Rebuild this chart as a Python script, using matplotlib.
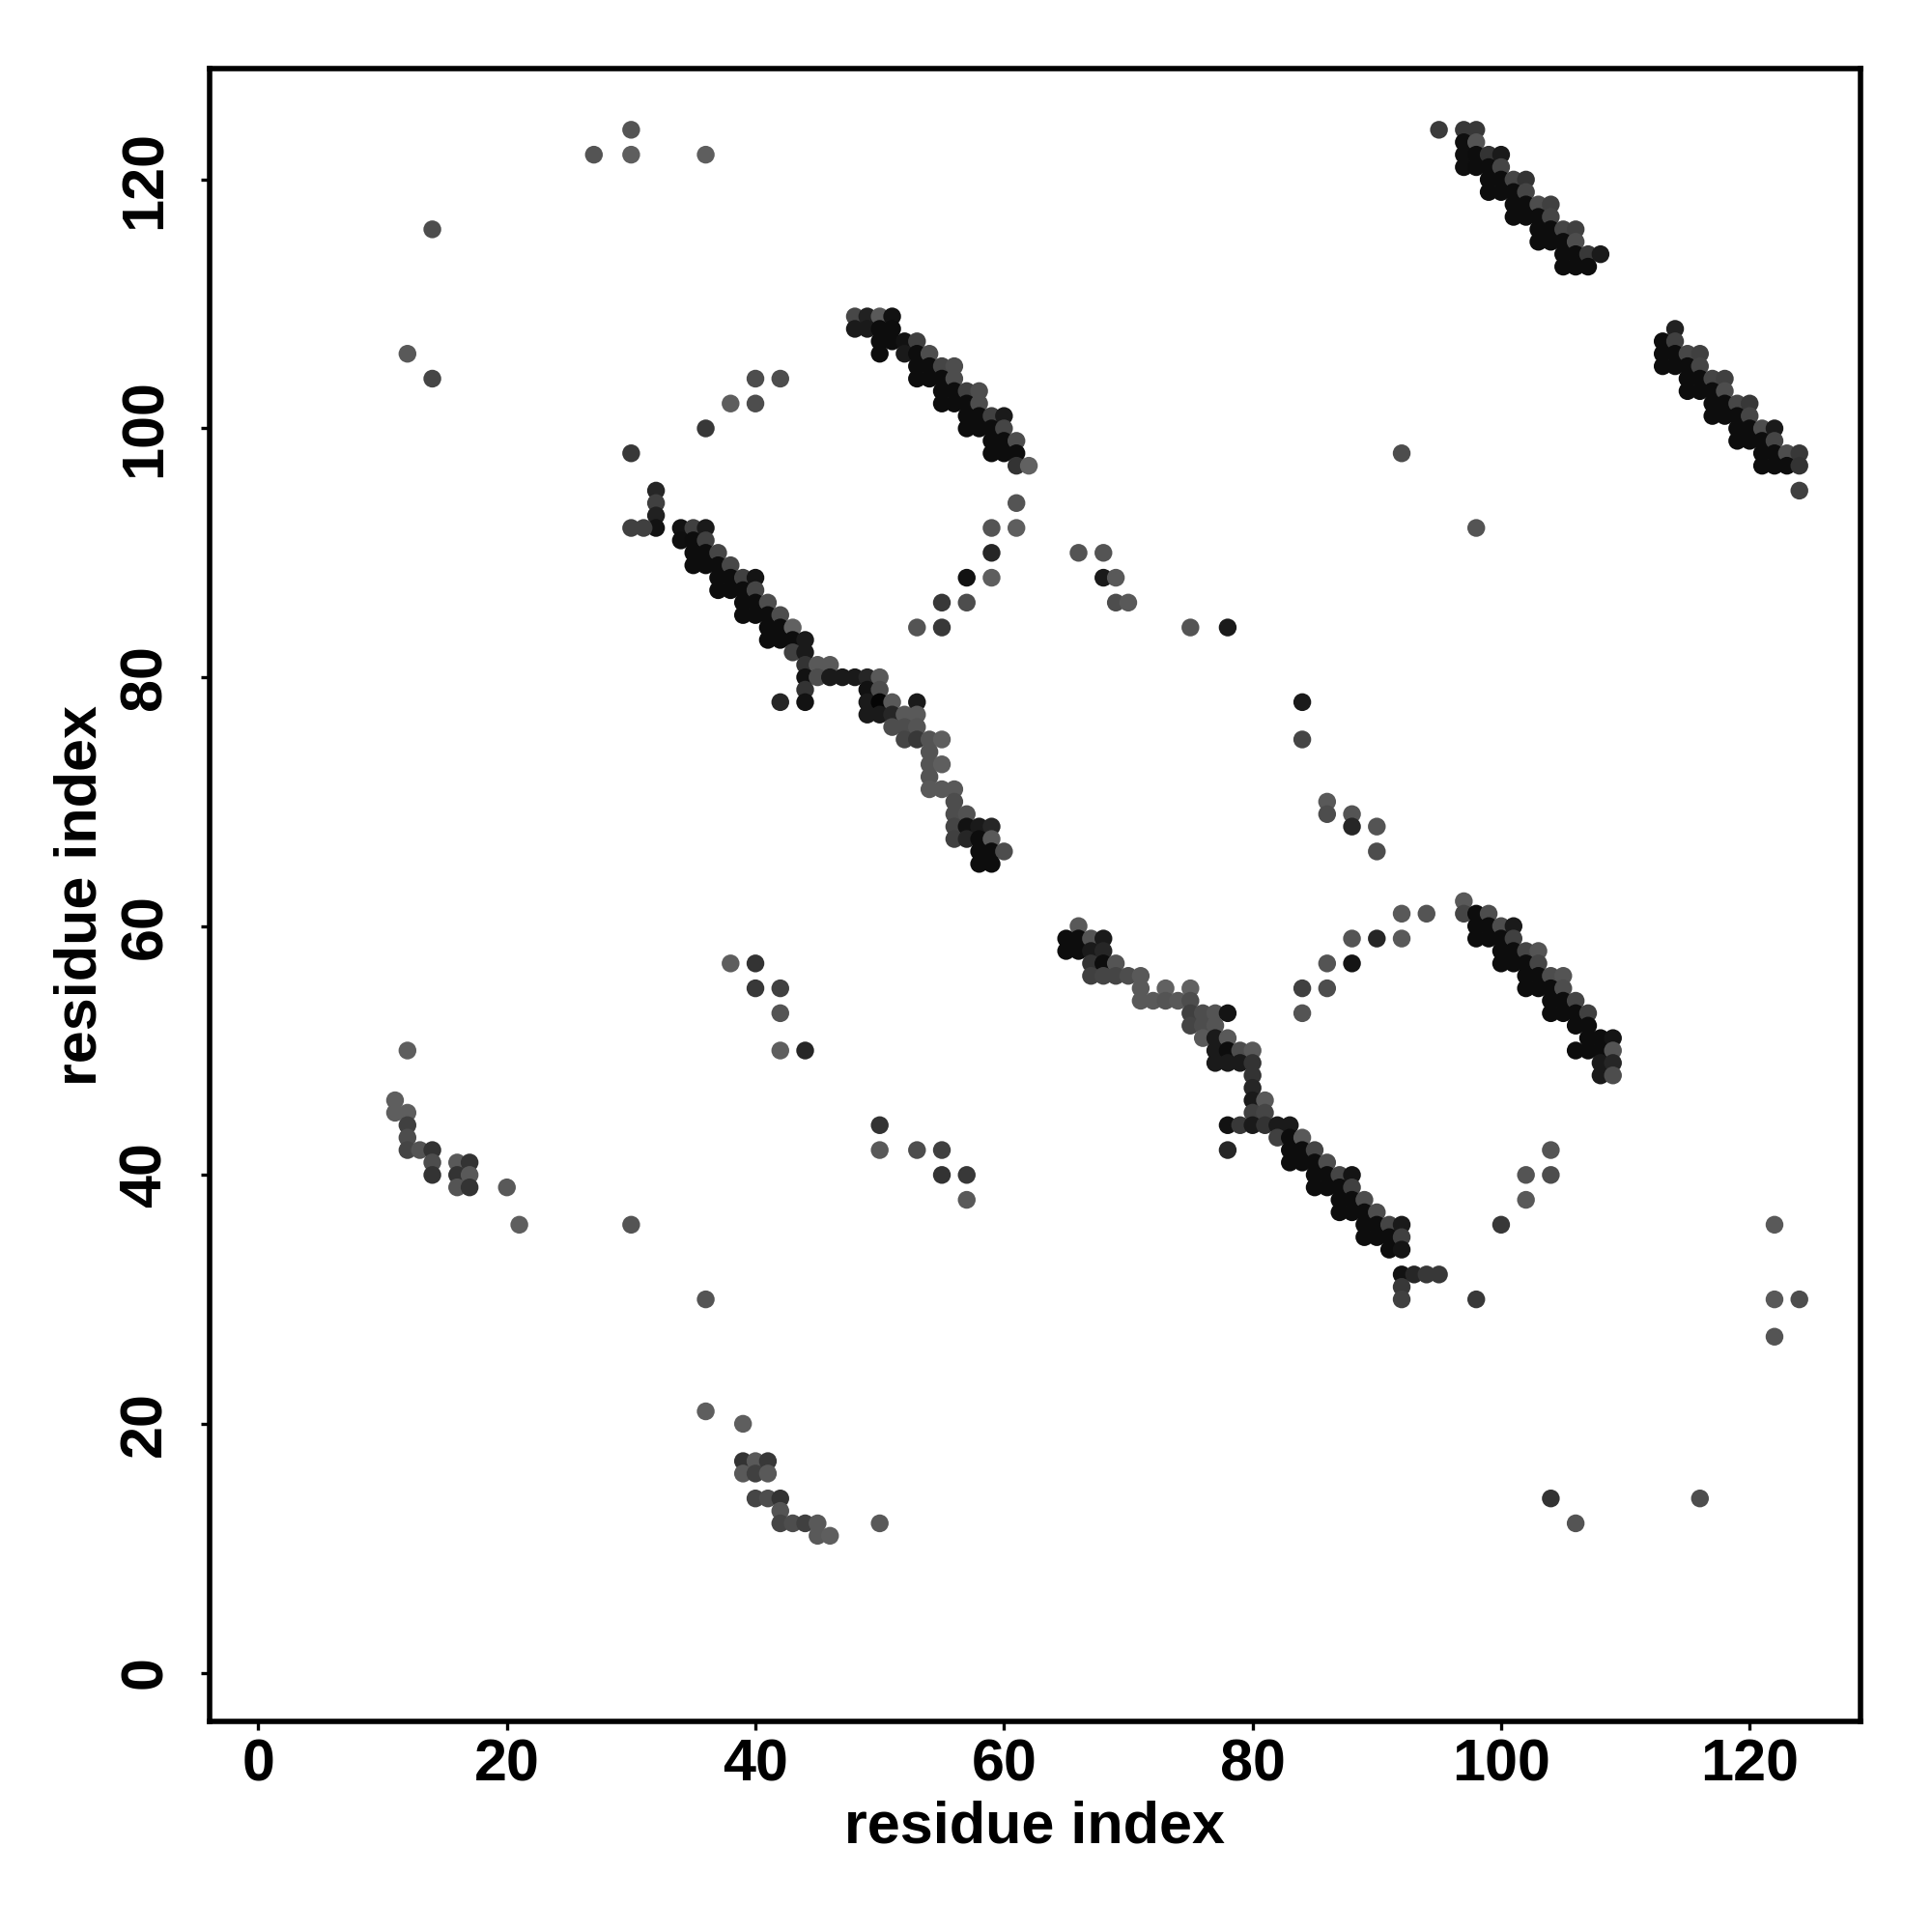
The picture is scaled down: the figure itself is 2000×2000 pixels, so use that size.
import matplotlib
matplotlib.use("Agg")
import matplotlib.pyplot as plt

plt.rcParams['font.family'] = ['Liberation Sans', 'DejaVu Sans']
plt.rcParams['font.weight'] = 'bold'

# contacts: (residue i, residue j, grey level 0=black .. 1=white)
sheet_a = [  # 97-108 vs 113-124
    (95, 124, .23), (97, 124, .22), (98, 124, .22), (97, 123, .06), (98, 123, .33),
    (97, 122, .06), (98, 122, .05), (99, 122, .2), (100, 122, .1),
    (97, 121, .06), (98, 121, .05), (99, 121, .05), (100, 121, .27),
    (99, 120, .05), (100, 120, .05), (101, 120, .27), (102, 120, .2),
    (99, 119, .05), (100, 119, .05), (101, 119, .05), (102, 119, .27),
    (101, 118, .05), (102, 118, .05), (103, 118, .3), (104, 118, .25),
    (101, 117, .05), (102, 117, .05), (103, 117, .05), (104, 117, .27),
    (103, 116, .05), (104, 116, .05), (105, 116, .27), (106, 116, .25),
    (103, 115, .05), (104, 115, .05), (105, 115, .05), (106, 115, .3),
    (105, 114, .05), (106, 114, .05), (107, 114, .22), (108, 114, .1),
    (105, 113, .05), (106, 113, .05), (107, 113, .05),
]
sheet_a_mirror = [
    (114, 108, .13), (113, 107, .05), (114, 107, .25),
    (113, 106, .05), (114, 106, .05), (115, 106, .28), (116, 106, .25),
    (113, 105, .05), (114, 105, .05), (115, 105, .05), (116, 105, .27),
    (115, 104, .05), (116, 104, .05), (117, 104, .27), (118, 104, .25),
    (115, 103, .05), (116, 103, .05), (117, 103, .05), (118, 103, .3),
    (117, 102, .05), (118, 102, .05), (119, 102, .28), (120, 102, .22),
    (117, 101, .05), (118, 101, .05), (119, 101, .05), (120, 101, .27),
    (119, 100, .05), (120, 100, .05), (121, 100, .3), (122, 100, .1),
    (119, 99, .05), (120, 99, .05), (121, 99, .05), (122, 99, .27),
    (121, 98, .05), (122, 98, .05), (123, 98, .3), (124, 98, .22),
    (121, 97, .05), (122, 97, .05), (123, 97, .05), (124, 97, .2),
    (124, 95, .25),
]
sheet_b = [  # 48-62 vs 97-109
    (48, 109, .28), (49, 109, .13), (50, 109, .35), (51, 109, .07),
    (48, 108, .1), (49, 108, .1), (50, 108, .05), (51, 108, .05),
    (50, 107, .05), (51, 107, .05), (52, 107, .07), (53, 107, .25),
    (50, 106, .05), (52, 106, .1), (53, 106, .05), (54, 106, .3),
    (53, 105, .05), (54, 105, .05), (55, 105, .27), (56, 105, .3),
    (53, 104, .05), (54, 104, .05), (55, 104, .05), (56, 104, .3),
    (55, 103, .05), (56, 103, .05), (57, 103, .25), (58, 103, .3),
    (55, 102, .05), (56, 102, .05), (57, 102, .05), (58, 102, .3),
    (57, 101, .05), (58, 101, .05), (59, 101, .25), (60, 101, .1),
    (57, 100, .05), (58, 100, .05), (59, 100, .05), (60, 100, .27),
    (59, 99, .05), (60, 99, .05), (61, 99, .3),
    (59, 98, .05), (60, 98, .05), (61, 98, .05),
    (61, 97, .2), (62, 97, .38),
]
sheet_b_mirror = [
    (97, 62, .35), (97, 61, .27), (98, 61, .05), (99, 61, .3),
    (98, 60, .05), (99, 60, .05), (100, 60, .3), (101, 60, .1),
    (98, 59, .05), (99, 59, .05), (100, 59, .05), (101, 59, .25),
    (100, 58, .05), (101, 58, .05), (102, 58, .27), (103, 58, .33),
    (100, 57, .05), (101, 57, .05), (102, 57, .05), (103, 57, .27),
    (102, 56, .05), (103, 56, .05), (104, 56, .3), (105, 56, .33),
    (102, 55, .05), (103, 55, .05), (104, 55, .05), (105, 55, .3),
    (104, 54, .05), (105, 54, .05), (106, 54, .27),
    (104, 53, .05), (105, 53, .05), (106, 53, .05), (107, 53, .25),
    (106, 52, .05), (107, 52, .05),
    (107, 51, .05), (108, 51, .05), (109, 51, .08),
    (106, 50, .05), (107, 50, .05), (108, 50, .05), (109, 50, .33),
    (108, 49, .1), (109, 49, .15), (108, 48, .1), (109, 48, .3),
]
strand_c = [  # 30-60 vs 65-95
    (32, 95, .15), (32, 94, .25), (32, 93, .13), (32, 92, .07), (30, 92, .25), (31, 92, .25),
    (34, 92, .07), (35, 92, .25), (36, 92, .1),
    (34, 91, .06), (35, 91, .05), (36, 91, .25),
    (35, 90, .05), (36, 90, .05), (37, 90, .27),
    (35, 89, .05), (36, 89, .05), (37, 89, .05), (38, 89, .28),
    (37, 88, .05), (38, 88, .05), (39, 88, .25), (40, 88, .08),
    (37, 87, .05), (38, 87, .05), (39, 87, .05), (40, 87, .27),
    (39, 86, .05), (40, 86, .05), (41, 86, .3),
    (39, 85, .05), (40, 85, .05), (41, 85, .05), (42, 85, .3),
    (41, 84, .05), (42, 84, .05), (43, 84, .38),
    (41, 83, .05), (42, 83, .05), (43, 83, .05), (44, 83, .1),
    (43, 82, .25), (44, 82, .1),
    (44, 81, .2), (45, 81, .35), (46, 81, .35),
    (44, 80, .07), (45, 80, .3), (46, 80, .1), (47, 80, .1), (48, 80, .1), (49, 80, .15), (50, 80, .35),
    (44, 79, .2), (49, 79, .07), (50, 79, .3),
    (42, 78, .15), (44, 78, .07), (49, 78, .1), (50, 78, .02), (51, 78, .35), (53, 78, .1),
    (49, 77, .1), (50, 77, .1), (51, 77, .15), (52, 77, .35), (53, 77, .35),
    (51, 76, .3), (52, 76, .3), (53, 76, .33),
    (52, 75, .27), (53, 75, .22), (54, 75, .33), (55, 75, .37),
    (54, 74, .33), (54, 73, .33), (55, 73, .37), (54, 72, .33),
    (54, 71, .35), (55, 71, .35), (56, 71, .35), (56, 70, .3),
    (56, 69, .3), (57, 69, .32),
    (56, 68, .27), (57, 68, .07), (58, 68, .1), (59, 68, .15),
    (56, 67, .25), (57, 67, .15), (58, 67, .05), (59, 67, .35),
    (58, 66, .05), (59, 66, .05), (60, 66, .3),
    (58, 65, .05), (59, 65, .05),
]
strand_c_mirror = [
    (66, 60, .35), (65, 59, .05), (66, 59, .05), (67, 59, .33), (68, 59, .1),
    (65, 58, .05), (66, 58, .05), (67, 58, .1), (68, 58, .15),
    (67, 57, .2), (68, 57, .05), (69, 57, .33),
    (67, 56, .25), (68, 56, .27), (69, 56, .27), (70, 56, .3), (71, 56, .35),
    (71, 55, .35), (73, 55, .38), (75, 55, .38),
    (71, 54, .35), (72, 54, .35), (73, 54, .33), (74, 54, .35), (75, 54, .3),
    (75, 53, .25), (76, 53, .3), (77, 53, .33), (78, 53, .08),
    (75, 52, .27), (76, 52, .3), (77, 52, .33),
    (76, 51, .35), (77, 51, .1), (78, 51, .35),
    (77, 50, .1), (78, 50, .05), (79, 50, .3), (80, 50, .35),
    (77, 49, .1), (78, 49, .1), (79, 49, .1), (80, 49, .2),
    (80, 48, .2), (80, 47, .15), (80, 46, .1), (81, 46, .35), (80, 45, .25), (81, 45, .27),
    (78, 44, .07), (79, 44, .22), (80, 44, .1), (81, 44, .2), (82, 44, .1), (83, 44, .1),
    (82, 43, .25), (83, 43, .05), (84, 43, .35),
    (78, 42, .15), (83, 42, .05), (84, 42, .05), (85, 42, .27),
    (83, 41, .05), (84, 41, .05), (85, 41, .05), (86, 41, .3),
    (85, 40, .05), (86, 40, .05), (87, 40, .27), (88, 40, .08),
    (85, 39, .05), (86, 39, .05), (87, 39, .05), (88, 39, .25),
    (87, 38, .05), (88, 38, .05), (89, 38, .3),
    (87, 37, .05), (88, 37, .05), (89, 37, .05), (90, 37, .3),
    (89, 36, .05), (90, 36, .05), (91, 36, .27), (92, 36, .1),
    (89, 35, .05), (90, 35, .05), (91, 35, .05), (92, 35, .25),
    (91, 34, .05), (92, 34, .08),
    (92, 32, .07), (93, 32, .15), (94, 32, .22), (95, 32, .22), (92, 31, .22), (92, 30, .25),
]
n_term = [
    (11, 46, .37), (11, 45, .37), (12, 45, .37), (12, 44, .25), (12, 43, .3),
    (12, 42, .27), (13, 42, .33), (14, 42, .2), (14, 41, .3), (14, 40, .2),
    (16, 41, .35), (17, 41, .2), (16, 40, .2), (17, 40, .35), (16, 39, .33), (17, 39, .2),
    (20, 39, .35), (21, 36, .37), (12, 50, .37),
    (36, 21, .37), (39, 20, .37), (39, 17, .2), (40, 17, .35), (41, 17, .22),
    (39, 16, .35), (40, 16, .25), (41, 16, .35),
    (40, 14, .27), (41, 14, .3), (42, 14, .2), (42, 13, .33),
    (42, 12, .27), (43, 12, .3), (44, 12, .25), (45, 12, .35),
    (45, 11, .35), (46, 11, .37), (50, 12, .35),
]
scattered = [
    (27, 122, .33), (30, 124, .33), (30, 122, .37), (36, 122, .37), (14, 116, .3),
    (12, 106, .35), (14, 104, .27), (30, 98, .22), (36, 100, .22), (38, 102, .37),
    (40, 102, .3), (40, 104, .3), (42, 104, .3),
    (61, 94, .33), (59, 92, .33), (61, 92, .37), (59, 90, .15), (57, 88, .07), (59, 88, .37),
    (55, 86, .22), (57, 86, .3), (53, 84, .33), (55, 84, .22),
    (66, 90, .33), (68, 90, .33), (68, 88, .1), (69, 88, .35), (69, 86, .3), (70, 86, .35),
    (75, 84, .33), (78, 84, .1), (92, 98, .3), (98, 92, .33),
    (84, 78, .1), (84, 75, .27), (86, 70, .35), (86, 69, .3), (88, 69, .33), (88, 68, .15),
    (90, 68, .33), (90, 66, .3),
    (92, 61, .35), (94, 61, .33), (92, 59, .35), (90, 59, .15), (88, 59, .33), (88, 57, .08),
    (86, 57, .33), (86, 55, .3), (84, 55, .25), (84, 53, .33),
    (38, 57, .37), (40, 57, .2), (40, 55, .22), (42, 55, .25), (42, 53, .33), (42, 50, .37),
    (44, 50, .15), (50, 44, .2), (50, 42, .35), (53, 42, .3), (55, 42, .25), (55, 40, .2),
    (57, 40, .22), (57, 38, .35), (30, 36, .33), (36, 30, .33),
    (100, 36, .22), (102, 38, .35), (102, 40, .33), (104, 40, .3), (104, 42, .33), (98, 30, .22),
    (122, 36, .35), (122, 30, .35), (124, 30, .3), (122, 27, .33),
    (104, 14, .2), (106, 12, .33), (116, 14, .3),
]

seq_len = 124
ticks = [0, 20, 40, 60, 80, 100, 120]

groups = [scattered, n_term, strand_c, strand_c_mirror, sheet_b, sheet_b_mirror,
          sheet_a, sheet_a_mirror]

fig = plt.figure(figsize=(10, 10), dpi=200)
ax = fig.add_axes([0.1085, 0.109, 0.8545, 0.8555])

for grp in groups:
    xs = [p[0] for p in grp]
    ys = [p[1] for p in grp]
    cols = [str(p[2]) for p in grp]
    ax.scatter(xs, ys, s=44, c=cols, linewidths=0, zorder=3)

pad = (seq_len - 1) * 0.04
ax.set_xlim(1 - pad, seq_len + pad)
ax.set_ylim(1 - pad, seq_len + pad)
ax.set_xticks(ticks)
ax.set_yticks(ticks)

for side in ax.spines.values():
    side.set_linewidth(2.0)
ax.tick_params(axis='both', length=3.4, width=1.2, labelsize=22)
ax.tick_params(axis='x', pad=3)
ax.tick_params(axis='y', pad=10)
plt.setp(ax.get_yticklabels(), rotation=90, va='center')

ax.set_xlabel("residue index", fontsize=22, fontweight='bold')
ax.set_ylabel("residue index", fontsize=22, fontweight='bold')
ax.xaxis.set_label_coords(0.5, -0.064)
ax.xaxis.label.set_va('center')
ax.yaxis.set_label_coords(-0.078, 0.5)
ax.yaxis.label.set_va('center')

fig.savefig("out.png", dpi=200, facecolor='white')
